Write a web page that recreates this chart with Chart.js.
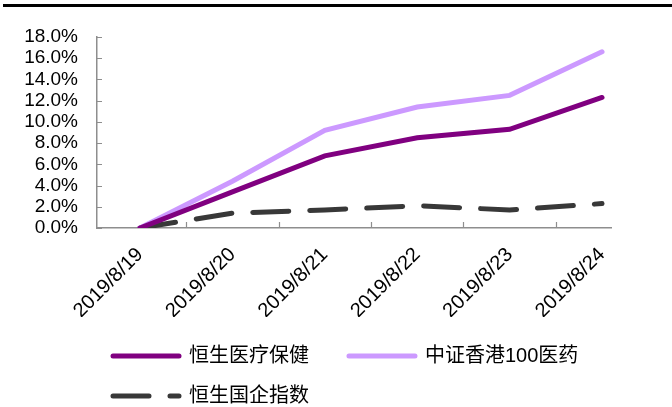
<!DOCTYPE html>
<html>
<head>
<meta charset="utf-8">
<script src="https://cdn.jsdelivr.net/npm/chart.js@4.4.1/dist/chart.umd.min.js"></script>
<style>
  html, body { margin: 0; padding: 0; background: #fff; }
  #wrap { position: relative; width: 672px; height: 407px; }
  #topLine { position: absolute; left: 3px; top: 4px; width: 669px; height: 3px; background: #000; }
  canvas { position: absolute; left: 0; top: 0; }
</style>
</head>
<body>
<div id="wrap">
  <canvas id="myChart" width="672" height="407"></canvas>
  <div id="topLine"></div>
</div>
<script>
// data (percent)
const dateLabels = ['2019/8/19', '2019/8/20', '2019/8/21', '2019/8/22', '2019/8/23', '2019/8/24'];
const seriesNames = ['恒生医疗保健', '中证香港100医药', '恒生国企指数'];
const healthcare = [0, 3.4, 6.8, 8.5, 9.3, 12.3];
const csiPharma = [0, 4.4, 9.2, 11.4, 12.5, 16.6];
const hscei = [0, 1.4, 1.7, 2.1, 1.7, 2.3];
const yTicks = [0, 2, 4, 6, 8, 10, 12, 14, 16, 18];

const FONT = "'Liberation Sans', 'Noto Sans CJK SC', sans-serif";
const AXIS_COLOR = '#8e8e8e';

function toPoints(values) {
    return values.map((v, i) => ({ x: i, y: v }));
}

// small tick marks pointing into the plot, like the original
const innerTicks = {
    id: 'innerTicks',
    afterDraw: function (chart) {
        const ctx = chart.ctx;
        const xs = chart.scales.x;
        const ys = chart.scales.y;
        ctx.save();
        ctx.strokeStyle = AXIS_COLOR;
        ctx.lineWidth = 1.2;
        ctx.beginPath();
        yTicks.forEach(v => {
            const py = Math.round(ys.getPixelForValue(v)) + 0.5;
            ctx.moveTo(ys.right, py);
            ctx.lineTo(ys.right + 5, py);
        });
        for (let i = 0; i < dateLabels.length - 1; i++) {
            const px = Math.round(xs.getPixelForValue(i + 0.5)) + 0.5;
            ctx.moveTo(px, xs.top);
            ctx.lineTo(px, xs.top - 6);
        }
        ctx.stroke();
        ctx.restore();
    }
};

// move the legend under the plot like in the picture
const legendShift = {
    id: 'legendShift',
    afterLayout: function (chart) {
        const lg = chart.legend;
        lg.left += 93;
        lg.right += 93;
        lg.top += 9;
        lg.bottom += 9;
    }
};

const ctx = document.getElementById('myChart').getContext('2d');
const chart = new Chart(ctx, {
    type: 'line',
    data: {
        datasets: [{
            label: seriesNames[0],
            data: toPoints(healthcare),
            borderColor: '#800080',
            backgroundColor: '#800080',
            borderWidth: 5,
            borderCapStyle: 'round',
            pointRadius: 0,
            pointStyle: 'line',
            tension: 0
        }, {
            label: seriesNames[1],
            data: toPoints(csiPharma),
            borderColor: '#cc99ff',
            backgroundColor: '#cc99ff',
            borderWidth: 5,
            borderCapStyle: 'round',
            pointRadius: 0,
            pointStyle: 'line',
            tension: 0
        }, {
            label: seriesNames[2],
            data: toPoints(hscei),
            borderColor: '#383838',
            backgroundColor: '#383838',
            borderWidth: 5,
            borderDash: [36, 21],
            borderCapStyle: 'round',
            pointRadius: 0,
            pointStyle: 'line',
            tension: 0
        }]
    },
    options: {
        responsive: false,
        animation: false,
        devicePixelRatio: 1,
        layout: {
            padding: { top: 37, right: 61, bottom: 0, left: 0 }
        },
        scales: {
            x: {
                type: 'linear',
                min: -0.465,
                max: 5.097,
                grid: { display: false, drawTicks: false },
                border: { display: true, color: AXIS_COLOR, width: 1.5 },
                afterBuildTicks: function (scale) {
                    scale.ticks = dateLabels.map((d, i) => ({ value: i }));
                },
                afterFit: function (scale) {
                    scale.height = 89;
                    scale.paddingLeft = 0;
                    scale.paddingRight = 0;
                },
                ticks: {
                    autoSkip: false,
                    minRotation: 45,
                    maxRotation: 45,
                    padding: 15,
                    color: '#000',
                    font: { family: FONT, size: 20 },
                    callback: function (value) {
                        return dateLabels[value];
                    }
                }
            },
            y: {
                min: 0,
                max: 18,
                grid: { display: false, drawTicks: false },
                border: { display: true, color: AXIS_COLOR, width: 1.5 },
                afterBuildTicks: function (scale) {
                    scale.ticks = yTicks.map(v => ({ value: v }));
                },
                afterFit: function (scale) {
                    scale.width = 97;
                    scale.paddingTop = 0;
                    scale.paddingBottom = 0;
                },
                ticks: {
                    autoSkip: false,
                    padding: 19,
                    color: '#000',
                    font: { family: FONT, size: 19 },
                    callback: function (value) {
                        return value.toFixed(1) + '%';
                    }
                }
            }
        },
        plugins: {
            legend: {
                position: 'bottom',
                align: 'start',
                labels: {
                    usePointStyle: true,
                    pointStyleWidth: 66,
                    padding: 20,
                    color: '#000',
                    font: { family: FONT, size: 20 },
                    generateLabels: function (chart) {
                        const items = Chart.defaults.plugins.legend.labels.generateLabels(chart);
                        items.forEach((item, i) => {
                            const ds = chart.data.datasets[i];
                            item.pointStyle = 'line';
                            item.lineWidth = ds.borderWidth;
                            item.strokeStyle = ds.borderColor;
                            item.lineDash = ds.borderDash || [];
                            item.lineCap = 'round';
                        });
                        // first item needs a wider gap before the next one
                        items[0].text = items[0].text + '\u3000';
                        return items;
                    }
                }
            },
            tooltip: { enabled: false }
        }
    },
    plugins: [innerTicks, legendShift]
});
</script>
</body>
</html>
